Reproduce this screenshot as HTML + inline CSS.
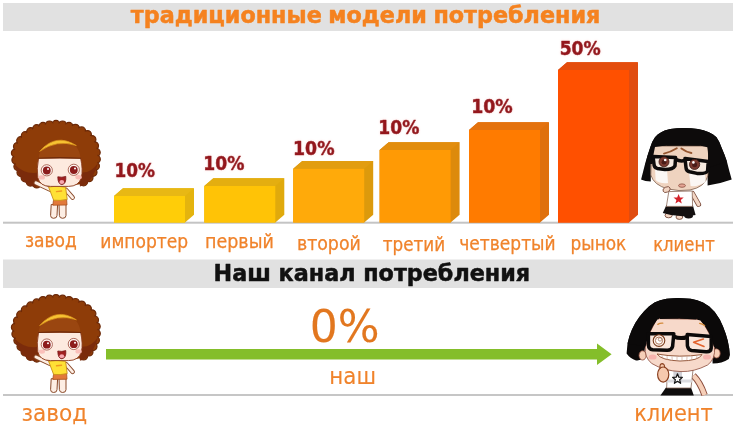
<!DOCTYPE html>
<html lang="ru">
<head>
<meta charset="utf-8">
<title>традиционные модели потребления</title>
<style>
html,body{margin:0;padding:0;background:#fff;}
body{width:747px;height:434px;overflow:hidden;position:relative;}
svg{position:absolute;left:0;top:0;display:block;}
svg text{font-family:"DejaVu Sans Condensed","DejaVu Sans","Liberation Sans",sans-serif;}
svg text.tt{font-family:"DejaVu Sans","Liberation Sans",sans-serif;}
</style>
</head>
<body>
<svg width="747" height="434" viewBox="0 0 747 434">
<defs>
<filter id="halo" x="-20%" y="-40%" width="140%" height="180%">
<feGaussianBlur in="SourceAlpha" stdDeviation="1.3" result="b"/>
<feFlood flood-color="#ff9a9a" flood-opacity="0.38"/>
<feComposite in2="b" operator="in" result="g"/>
<feMerge><feMergeNode in="g"/><feMergeNode in="SourceGraphic"/></feMerge>
</filter>
</defs>
<g id="misc">
<rect x="3" y="3" width="730" height="28" fill="#e1e1e1"/>
<rect x="3" y="259.5" width="730" height="28.5" fill="#e1e1e1"/>
<rect x="3" y="221.7" width="730" height="2" fill="#c4c4c4"/>
<rect x="3" y="394" width="730" height="2" fill="#c6c6c6"/>
<polygon points="106,349 597,349 597,343.4 611.6,354.2 597,365 597,359.6 106,359.6" fill="#84be2a"/>
</g>

<g id="bars">
<polygon points="114.0,196.0 123.0,188.2 194.0,188.2 194.0,214.79999999999998 185.0,222.6 114.0,222.6" fill="#e4b40e"/>
<polygon points="114.0,196.0 123.0,188.2 194.0,188.2 185.0,196.0" fill="#e8b814"/>
<rect x="114.0" y="196.0" width="71.0" height="26.6" fill="#ffcd08"/>
<polygon points="204.3,186.0 213.3,178.2 284.3,178.2 284.3,214.79999999999998 275.3,222.6 204.3,222.6" fill="#e0aa0c"/>
<polygon points="204.3,186.0 213.3,178.2 284.3,178.2 275.3,186.0" fill="#e4ae10"/>
<rect x="204.3" y="186.0" width="71.0" height="36.6" fill="#ffc306"/>
<polygon points="293.2,168.8 302.2,161.0 373.2,161.0 373.2,214.79999999999998 364.2,222.6 293.2,222.6" fill="#dc9a0c"/>
<polygon points="293.2,168.8 302.2,161.0 373.2,161.0 364.2,168.8" fill="#e29d10"/>
<rect x="293.2" y="168.8" width="71.0" height="53.8" fill="#ffaa0a"/>
<polygon points="379.6,150.0 388.6,142.2 459.6,142.2 459.6,214.79999999999998 450.6,222.6 379.6,222.6" fill="#dd8a0c"/>
<polygon points="379.6,150.0 388.6,142.2 459.6,142.2 450.6,150.0" fill="#e28d0e"/>
<rect x="379.6" y="150.0" width="71.0" height="72.6" fill="#ff9a05"/>
<polygon points="469.0,130.0 478.0,122.2 549.0,122.2 549.0,214.79999999999998 540.0,222.6 469.0,222.6" fill="#df700c"/>
<polygon points="469.0,130.0 478.0,122.2 549.0,122.2 540.0,130.0" fill="#e4720e"/>
<rect x="469.0" y="130.0" width="71.0" height="92.6" fill="#ff7b00"/>
<polygon points="558.0,70.0 567.0,62.2 638.0,62.2 638.0,214.79999999999998 629.0,222.6 558.0,222.6" fill="#e04c10"/>
<polygon points="558.0,70.0 567.0,62.2 638.0,62.2 629.0,70.0" fill="#e44c0c"/>
<rect x="558.0" y="70.0" width="71.0" height="152.6" fill="#ff5000"/>
</g>

<g id="girl1" transform="translate(0,0)">
<!-- legs -->
<g fill="#fdeee4" stroke="#8a4a2a" stroke-width="1">
<path d="M51.2 204.5 L50.6 215.5 Q50.6 218.3 53.6 218.3 Q57 218.3 57 215.5 L57.6 204.5 Z"/>
<path d="M59 204.5 L59.4 215.5 Q59.6 218.3 62.6 218.3 Q66 218.3 66 215.5 L66 204.5 Z"/>
</g>
<!-- arms -->
<path d="M66 190 L72.6 197.6" stroke="#8a4a2a" stroke-width="4.6" stroke-linecap="round" fill="none"/>
<path d="M66 190 L72.6 197.6" stroke="#fdeee4" stroke-width="2.8" stroke-linecap="round" fill="none"/>
<!-- skirt -->
<path d="M53.6 199.5 L66.6 199 L67 205 L52.8 205.2 Z" fill="#e2793a" stroke="#a8501e" stroke-width="0.8"/>
<!-- hair -->
<g fill="#8e3c08" stroke="#6a2808" stroke-width="1.2"><circle cx="56.0" cy="124.4" r="4"/><circle cx="62.6" cy="125.0" r="4"/><circle cx="69.0" cy="126.4" r="4"/><circle cx="75.4" cy="128.3" r="4"/><circle cx="81.6" cy="130.9" r="4"/><circle cx="87.4" cy="134.6" r="4"/><circle cx="91.9" cy="139.6" r="4"/><circle cx="94.5" cy="145.8" r="4"/><circle cx="96.2" cy="152.4" r="4"/><circle cx="96.3" cy="159.2" r="4"/><circle cx="95.4" cy="166.0" r="4"/><circle cx="93.0" cy="172.3" r="4"/><circle cx="89.0" cy="177.7" r="4"/><circle cx="83.6" cy="181.8" r="4"/><circle cx="36.8" cy="183.9" r="4"/><circle cx="30.3" cy="182.1" r="4"/><circle cx="25.1" cy="177.8" r="4"/><circle cx="21.0" cy="172.4" r="4"/><circle cx="17.9" cy="166.4" r="4"/><circle cx="15.9" cy="159.9" r="4"/><circle cx="15.4" cy="153.1" r="4"/><circle cx="17.5" cy="146.6" r="4"/><circle cx="20.7" cy="140.7" r="4"/><circle cx="25.3" cy="135.7" r="4"/><circle cx="30.7" cy="131.7" r="4"/><circle cx="36.7" cy="128.7" r="4"/><circle cx="43.0" cy="126.4" r="4"/><circle cx="49.4" cy="125.0" r="4"/></g>
<polygon points="56.0,123.2 58.7,123.3 61.5,123.7 64.3,124.1 67.0,124.7 69.7,125.3 72.2,126.0 74.8,126.9 77.3,127.8 79.6,128.8 81.7,129.7 83.6,130.7 85.2,131.6 86.7,132.6 88.0,133.6 89.3,134.7 90.4,135.7 91.4,136.8 92.2,137.9 93.0,139.2 93.8,140.6 94.6,142.4 95.3,144.4 96.0,146.5 96.6,148.5 97.0,150.4 97.3,152.0 97.5,153.5 97.5,154.9 97.5,156.3 97.5,157.8 97.5,159.2 97.5,160.7 97.4,162.1 97.2,163.6 96.9,165.2 96.4,167.0 95.7,168.9 95.0,170.9 94.1,172.8 93.2,174.5 92.1,176.0 90.9,177.5 89.6,178.8 88.3,179.9 87.0,180.9 85.8,181.8 84.7,182.5 83.5,183.1 82.1,183.6 80.4,184.1 78.6,184.4 76.7,184.7 74.5,184.8 71.9,185.0 68.8,185.1 64.5,185.1 59.5,185.2 54.2,185.3 49.2,185.4 45.1,185.5 42.1,185.5 39.8,185.4 38.0,185.2 36.5,185.0 34.9,184.7 33.3,184.4 31.9,184.0 30.7,183.6 29.5,183.0 28.3,182.3 27.0,181.3 25.8,180.3 24.5,179.0 23.4,177.7 22.2,176.3 21.1,174.7 20.0,173.1 18.9,171.3 17.9,169.4 17.0,167.5 16.3,165.5 15.6,163.2 15.0,161.0 14.5,158.8 14.2,156.9 14.1,155.2 14.2,153.7 14.4,152.3 14.7,150.9 15.2,149.4 15.7,147.8 16.4,146.1 17.2,144.4 18.1,142.7 19.0,141.1 20.0,139.7 21.0,138.4 22.2,137.1 23.4,135.9 24.7,134.7 26.0,133.6 27.4,132.5 28.8,131.5 30.4,130.5 32.2,129.5 34.2,128.6 36.3,127.6 38.5,126.7 40.9,125.8 43.3,125.1 45.7,124.5 48.2,124.0 50.8,123.6 53.4,123.3" fill="#8e3c08"/>
<path d="M14 164 Q22 186 36 187 L40 172 Q26 176 14 164 Z" fill="#7a2a0c" opacity="0.95"/>
<path d="M98 163 Q92 184 80 186.5 L78 172 Q90 175 98 163 Z" fill="#7a2a0c" opacity="0.95"/>
<!-- left arm -->
<path d="M50.5 189.6 L36 182.8" stroke="#8a4a2a" stroke-width="4.8" stroke-linecap="round" fill="none"/>
<path d="M50.5 189.6 L36 182.8" stroke="#fdeee4" stroke-width="3" stroke-linecap="round" fill="none"/>
<!-- shirt -->
<path d="M48.6 187 Q57 185.2 65.6 187.2 L67.2 199.4 Q60 201 53.6 200.2 Z" fill="#ffe135" stroke="#c8901a" stroke-width="0.9" stroke-linejoin="round"/>
<path d="M56.5 191.6 L61.6 191" stroke="#f09a20" stroke-width="1.4" stroke-linecap="round"/>
<!-- face -->
<path d="M38.6 158 L80.6 158 Q83.2 170 81.4 177.5 Q78.8 186.4 68.5 186.4 L50.5 186.4 Q39.8 186.4 37.8 177.5 Q36.4 169 38.6 158 Z" fill="#fdeadf" stroke="#8a3a1a" stroke-width="0.9"/>
<!-- bangs -->
<path d="M38.6 158.6 Q39 151 44 147.5 Q60 139 76 146.5 Q80 151 80.6 158.6 Q60 157.4 38.6 158.6 Z" fill="#9a4610"/>
<path d="M38.2 158.3 Q60 157 81 158.3" stroke="#6e2a0a" stroke-width="1.1" fill="none"/>
<!-- headband -->
<path d="M39.6 151.4 Q56 132.4 76.4 145.6 Q57 139 39.6 151.4 Z" fill="#f6c232" stroke="#e09a20" stroke-width="0.7" stroke-linejoin="round"/>
<!-- cheeks -->
<ellipse cx="41.8" cy="177.4" rx="3.2" ry="2.2" fill="#f9b9b4" opacity="0.85"/>
<ellipse cx="78.6" cy="177.2" rx="3.2" ry="2.2" fill="#f9b9b4" opacity="0.85"/>
<!-- eyes -->
<g>
<circle cx="46.8" cy="170.3" r="5.6" fill="#fff6f2" stroke="#9a4a3a" stroke-width="0.8"/>
<circle cx="46.8" cy="170.5" r="3.9" fill="#8c1c1c"/>
<circle cx="48" cy="169" r="1" fill="#fff"/>
<circle cx="73.8" cy="169.8" r="5.6" fill="#fff6f2" stroke="#9a4a3a" stroke-width="0.8"/>
<circle cx="73.8" cy="170" r="3.9" fill="#8c1c1c"/>
<circle cx="75" cy="168.5" r="1" fill="#fff"/>
</g>
<!-- mouth -->
<path d="M57.8 176.8 Q62 177.8 65.8 176.4 Q66.4 184.2 61.8 184.6 Q57.8 184.2 57.8 176.8 Z" fill="#a02020" stroke="#7a1818" stroke-width="0.8" stroke-linejoin="round"/>
<ellipse cx="61.8" cy="182" rx="2.4" ry="1.9" fill="#f6a8b0"/>
</g>

<g id="client1">
<!-- feet / shoes -->
<ellipse cx="668.6" cy="215.4" rx="3.6" ry="2.4" fill="#f3d6c4" stroke="#6a3a2a" stroke-width="0.8"/>
<ellipse cx="679.4" cy="217" rx="3.4" ry="2.4" fill="#f3d6c4" stroke="#6a3a2a" stroke-width="0.8"/>
<ellipse cx="688.6" cy="216" rx="4.4" ry="2.4" fill="#151010"/>
<!-- right arm -->
<path d="M692.4 193.4 L698.6 204.4" stroke="#7a4a3a" stroke-width="5" stroke-linecap="round" fill="none"/>
<path d="M692.4 193.4 L698.6 204.4" stroke="#f3d6c4" stroke-width="3.4" stroke-linecap="round" fill="none"/>
<!-- skirt -->
<path d="M666.4 205 L692.8 205 L695.6 215 Q679 218.4 662.8 213 Z" fill="#141010"/>
<!-- shirt -->
<path d="M668.8 191.6 L692.2 191 L692.6 206.4 L666.4 206.4 Z" fill="#ffffff" stroke="#8a6a5a" stroke-width="0.8" stroke-linejoin="round"/>
<polygon points="678.6,194 680,197.5 683.7,197.6 680.8,199.9 681.8,203.5 678.6,201.4 675.4,203.5 676.4,199.9 673.5,197.6 677.2,197.5" fill="#d3222a"/>
<!-- hair back -->
<path d="M641.1 179.5 L643.2 171.2 L645.3 162.9 L647.4 156 L650.1 147.7 L652.2 142.1 L655 137.3 L657.7 134.5 L661.2 132.2 L664.7 130.5 L670.2 129 L677.1 128.2 L684 128 L690.9 128.2 L697.9 128.9 L703.4 130.2 L708.9 132.2 L713.1 134.5 L716.5 137.3 L719.3 142.1 L721.6 147.7 L724.4 154.6 L726.9 161.5 L729.4 171.2 L731.7 179.6 Q720 184 707.6 185.4 L707.6 160 L650.8 160 L650.8 181.6 Q645 181.4 641 179.5 Z" fill="#0d0b0b"/>
<!-- face -->
<path d="M653.4 146 L708 146 Q709.6 165 707.8 176 Q705 187 690 190 Q679 191.6 668 189 Q653.6 185 650.8 175 Q650.4 160 653.4 146 Z" fill="#efd3bf" stroke="#6a4a3a" stroke-width="0.7"/>
<!-- tears -->
<path d="M655 168 Q661 171 667 169 L668 183 Q660 184 655.6 180 Z" fill="#fbf7f4"/>
<path d="M689 172 Q697 175 705 172.5 L705.6 182 Q698 187 690.6 186 Z" fill="#fbf7f4"/>
<!-- hair front / bangs -->
<path d="M647.4 156 L650.1 147.7 L652.2 142.1 L655 137.3 L657.7 134.5 L661.2 132.2 L664.7 130.5 L670.2 129 L677.1 128.2 L684 128 L690.9 128.2 L697.9 128.9 L703.4 130.2 L708.9 132.2 L713.1 134.5 L716.5 137.3 L719.3 142.1 L721.6 147.7 L724.4 154.6 L726.9 161.5 L707.8 168 Q708.6 153 707.4 147.2 L701 145.8 L700.4 144 L699.6 145.6 L682.6 145 L682 143 L681.4 145 L667 145.4 L666.4 143.4 L665.8 145.4 L655 147 Q653 155 652.4 164 L645.6 164 Z" fill="#0d0b0b"/>
<!-- eyebrows -->
<path d="M664 153.6 Q671 151.8 676.8 148.2" stroke="#96552f" stroke-width="1.9" stroke-linecap="round" fill="none"/>
<path d="M681.4 148.4 Q686 151.8 691.4 153" stroke="#96552f" stroke-width="1.9" stroke-linecap="round" fill="none"/>
<!-- glasses -->
<g stroke="#0d0b0b" stroke-width="3.5" stroke-linejoin="round">
<path d="M653 156.6 L675.6 157.6 L675 165.8 Q673 169.4 665 169.4 L657.2 168.4 Q654 167.4 654 164.2 Z" fill="#f5e9df"/>
<path d="M685 158.4 L708.2 161.6 L707.6 171 Q706 174 697 173.4 L689.6 171.8 Q686.2 170.8 686 167.6 Z" fill="#f5e9df"/>
<path d="M675.6 159.4 Q680.4 161.8 685 160.4" fill="none"/>
</g>
<circle cx="664" cy="161.8" r="5" fill="#7c3b30" stroke="#3a1510" stroke-width="0.8"/>
<circle cx="664" cy="162.2" r="2.4" fill="#4a1c18"/>
<circle cx="665.2" cy="160" r="1.3" fill="#fff"/>
<circle cx="694.6" cy="164.4" r="5.1" fill="#7c3b30" stroke="#3a1510" stroke-width="0.8"/>
<circle cx="694.6" cy="164.8" r="2.5" fill="#4a1c18"/>
<circle cx="693.4" cy="162.4" r="1.3" fill="#fff"/>
<!-- mouth -->
<ellipse cx="682" cy="185.6" rx="3.4" ry="1.7" fill="#e5a494" stroke="#8a4a3a" stroke-width="0.8"/>
<!-- hand at chin -->
<ellipse cx="666.6" cy="189.6" rx="3.8" ry="2.6" transform="rotate(-25 666.6 189.6)" fill="#f3d6c4" stroke="#7a4a3a" stroke-width="0.8"/>
</g>

<g id="girl2" transform="translate(0,174.2)">
<!-- legs -->
<g fill="#fdeee4" stroke="#8a4a2a" stroke-width="1">
<path d="M51.2 204.5 L50.6 215.5 Q50.6 218.3 53.6 218.3 Q57 218.3 57 215.5 L57.6 204.5 Z"/>
<path d="M59 204.5 L59.4 215.5 Q59.6 218.3 62.6 218.3 Q66 218.3 66 215.5 L66 204.5 Z"/>
</g>
<!-- arms -->
<path d="M66 190 L72.6 197.6" stroke="#8a4a2a" stroke-width="4.6" stroke-linecap="round" fill="none"/>
<path d="M66 190 L72.6 197.6" stroke="#fdeee4" stroke-width="2.8" stroke-linecap="round" fill="none"/>
<!-- skirt -->
<path d="M53.6 199.5 L66.6 199 L67 205 L52.8 205.2 Z" fill="#e2793a" stroke="#a8501e" stroke-width="0.8"/>
<!-- hair -->
<g fill="#8e3c08" stroke="#6a2808" stroke-width="1.2"><circle cx="56.0" cy="124.4" r="4"/><circle cx="62.6" cy="125.0" r="4"/><circle cx="69.0" cy="126.4" r="4"/><circle cx="75.4" cy="128.3" r="4"/><circle cx="81.6" cy="130.9" r="4"/><circle cx="87.4" cy="134.6" r="4"/><circle cx="91.9" cy="139.6" r="4"/><circle cx="94.5" cy="145.8" r="4"/><circle cx="96.2" cy="152.4" r="4"/><circle cx="96.3" cy="159.2" r="4"/><circle cx="95.4" cy="166.0" r="4"/><circle cx="93.0" cy="172.3" r="4"/><circle cx="89.0" cy="177.7" r="4"/><circle cx="83.6" cy="181.8" r="4"/><circle cx="36.8" cy="183.9" r="4"/><circle cx="30.3" cy="182.1" r="4"/><circle cx="25.1" cy="177.8" r="4"/><circle cx="21.0" cy="172.4" r="4"/><circle cx="17.9" cy="166.4" r="4"/><circle cx="15.9" cy="159.9" r="4"/><circle cx="15.4" cy="153.1" r="4"/><circle cx="17.5" cy="146.6" r="4"/><circle cx="20.7" cy="140.7" r="4"/><circle cx="25.3" cy="135.7" r="4"/><circle cx="30.7" cy="131.7" r="4"/><circle cx="36.7" cy="128.7" r="4"/><circle cx="43.0" cy="126.4" r="4"/><circle cx="49.4" cy="125.0" r="4"/></g>
<polygon points="56.0,123.2 58.7,123.3 61.5,123.7 64.3,124.1 67.0,124.7 69.7,125.3 72.2,126.0 74.8,126.9 77.3,127.8 79.6,128.8 81.7,129.7 83.6,130.7 85.2,131.6 86.7,132.6 88.0,133.6 89.3,134.7 90.4,135.7 91.4,136.8 92.2,137.9 93.0,139.2 93.8,140.6 94.6,142.4 95.3,144.4 96.0,146.5 96.6,148.5 97.0,150.4 97.3,152.0 97.5,153.5 97.5,154.9 97.5,156.3 97.5,157.8 97.5,159.2 97.5,160.7 97.4,162.1 97.2,163.6 96.9,165.2 96.4,167.0 95.7,168.9 95.0,170.9 94.1,172.8 93.2,174.5 92.1,176.0 90.9,177.5 89.6,178.8 88.3,179.9 87.0,180.9 85.8,181.8 84.7,182.5 83.5,183.1 82.1,183.6 80.4,184.1 78.6,184.4 76.7,184.7 74.5,184.8 71.9,185.0 68.8,185.1 64.5,185.1 59.5,185.2 54.2,185.3 49.2,185.4 45.1,185.5 42.1,185.5 39.8,185.4 38.0,185.2 36.5,185.0 34.9,184.7 33.3,184.4 31.9,184.0 30.7,183.6 29.5,183.0 28.3,182.3 27.0,181.3 25.8,180.3 24.5,179.0 23.4,177.7 22.2,176.3 21.1,174.7 20.0,173.1 18.9,171.3 17.9,169.4 17.0,167.5 16.3,165.5 15.6,163.2 15.0,161.0 14.5,158.8 14.2,156.9 14.1,155.2 14.2,153.7 14.4,152.3 14.7,150.9 15.2,149.4 15.7,147.8 16.4,146.1 17.2,144.4 18.1,142.7 19.0,141.1 20.0,139.7 21.0,138.4 22.2,137.1 23.4,135.9 24.7,134.7 26.0,133.6 27.4,132.5 28.8,131.5 30.4,130.5 32.2,129.5 34.2,128.6 36.3,127.6 38.5,126.7 40.9,125.8 43.3,125.1 45.7,124.5 48.2,124.0 50.8,123.6 53.4,123.3" fill="#8e3c08"/>
<path d="M14 164 Q22 186 36 187 L40 172 Q26 176 14 164 Z" fill="#7a2a0c" opacity="0.95"/>
<path d="M98 163 Q92 184 80 186.5 L78 172 Q90 175 98 163 Z" fill="#7a2a0c" opacity="0.95"/>
<!-- left arm -->
<path d="M50.5 189.6 L36 182.8" stroke="#8a4a2a" stroke-width="4.8" stroke-linecap="round" fill="none"/>
<path d="M50.5 189.6 L36 182.8" stroke="#fdeee4" stroke-width="3" stroke-linecap="round" fill="none"/>
<!-- shirt -->
<path d="M48.6 187 Q57 185.2 65.6 187.2 L67.2 199.4 Q60 201 53.6 200.2 Z" fill="#ffe135" stroke="#c8901a" stroke-width="0.9" stroke-linejoin="round"/>
<path d="M56.5 191.6 L61.6 191" stroke="#f09a20" stroke-width="1.4" stroke-linecap="round"/>
<!-- face -->
<path d="M38.6 158 L80.6 158 Q83.2 170 81.4 177.5 Q78.8 186.4 68.5 186.4 L50.5 186.4 Q39.8 186.4 37.8 177.5 Q36.4 169 38.6 158 Z" fill="#fdeadf" stroke="#8a3a1a" stroke-width="0.9"/>
<!-- bangs -->
<path d="M38.6 158.6 Q39 151 44 147.5 Q60 139 76 146.5 Q80 151 80.6 158.6 Q60 157.4 38.6 158.6 Z" fill="#9a4610"/>
<path d="M38.2 158.3 Q60 157 81 158.3" stroke="#6e2a0a" stroke-width="1.1" fill="none"/>
<!-- headband -->
<path d="M39.6 151.4 Q56 132.4 76.4 145.6 Q57 139 39.6 151.4 Z" fill="#f6c232" stroke="#e09a20" stroke-width="0.7" stroke-linejoin="round"/>
<!-- cheeks -->
<ellipse cx="41.8" cy="177.4" rx="3.2" ry="2.2" fill="#f9b9b4" opacity="0.85"/>
<ellipse cx="78.6" cy="177.2" rx="3.2" ry="2.2" fill="#f9b9b4" opacity="0.85"/>
<!-- eyes -->
<g>
<circle cx="46.8" cy="170.3" r="5.6" fill="#fff6f2" stroke="#9a4a3a" stroke-width="0.8"/>
<circle cx="46.8" cy="170.5" r="3.9" fill="#8c1c1c"/>
<circle cx="48" cy="169" r="1" fill="#fff"/>
<circle cx="73.8" cy="169.8" r="5.6" fill="#fff6f2" stroke="#9a4a3a" stroke-width="0.8"/>
<circle cx="73.8" cy="170" r="3.9" fill="#8c1c1c"/>
<circle cx="75" cy="168.5" r="1" fill="#fff"/>
</g>
<!-- mouth -->
<path d="M57.8 176.8 Q62 177.8 65.8 176.4 Q66.4 184.2 61.8 184.6 Q57.8 184.2 57.8 176.8 Z" fill="#a02020" stroke="#7a1818" stroke-width="0.8" stroke-linejoin="round"/>
<ellipse cx="61.8" cy="182" rx="2.4" ry="1.9" fill="#f6a8b0"/>
</g>

<g id="client2">
<!-- right arm -->
<path d="M693.4 375.6 Q700 382 704.6 395" stroke="#8a4a3a" stroke-width="6.4" stroke-linecap="butt" fill="none"/>
<path d="M693.4 375.6 Q700 382 704.6 395" stroke="#f6cfb8" stroke-width="4.6" stroke-linecap="butt" fill="none"/>
<!-- skirt -->
<path d="M666 387.4 L691 387.4 L693.8 395.6 L660.4 395.6 Z" fill="#0f0d0d"/>
<!-- shirt -->
<path d="M667.6 370 L693 370 L691 388 L666.6 388 Z" fill="#ffffff" stroke="#8a6a5a" stroke-width="0.8"/>
<path d="M667 379.4 L692 379.4 L691.8 382.4 L666.8 382.4 Z" fill="#dcdce0"/>
<path d="M673.4 370.6 L682 370.6 L682 382.4 L673.4 382.4 Z" fill="#d0d0d6"/>
<polygon points="677.5,373.8 678.8,377.2 682.4,377.4 679.6,379.7 680.6,383.3 677.5,381.3 674.4,383.3 675.4,379.7 672.6,377.4 676.2,377.2" fill="#ffffff" stroke="#151515" stroke-width="1.2" stroke-linejoin="round"/>
<!-- hair back -->
<path d="M626.6 353.4 L627.5 343.5 L629.5 336 L632 329.5 L635.3 323 L639.3 317 L644.1 311.3 L648.9 306.5 L654.5 302.6 L660.2 300.2 L666.6 298.8 L677.8 298.1 L690.7 298.8 L697.1 300.2 L703 302.4 L709.3 306.5 L714.8 312 L719.8 319.5 L723 326.5 L725.8 334 L727.8 341 L729.2 348.4 L729.8 355.6 L728.8 359 Q722 363.6 712.6 363.6 L712 340 L646 340 L643.6 358 Q640 361 636 360.4 Q630 358.4 626.6 353.4 Z" fill="#0b0909"/>
<!-- ears -->
<ellipse cx="642.6" cy="355.4" rx="3.6" ry="4.6" fill="#f6cfb8" stroke="#8a4a3a" stroke-width="0.8"/>
<ellipse cx="716.6" cy="353.4" rx="3.6" ry="4.6" fill="#f6cfb8" stroke="#8a4a3a" stroke-width="0.8"/>
<!-- face -->
<path d="M657 318.6 L700.4 319.2 Q710 332 714.4 347 Q715.8 359 707.6 365 Q694 372 681 371.6 Q664 371 651.6 363.4 Q644.2 357 645.4 347 Q648.6 332 657 318.6 Z" fill="#f7d9ca" stroke="#8a4a3a" stroke-width="0.8"/>
<!-- cheeks -->
<ellipse cx="652.6" cy="357" rx="4" ry="2.6" fill="#f6a9a6" opacity="0.8"/>
<ellipse cx="707" cy="357" rx="4" ry="2.6" fill="#f6a9a6" opacity="0.8"/>
<!-- hair front -->
<path d="M627.5 343.5 L629.5 336 L632 329.5 L635.3 323 L639.3 317 L644.1 311.3 L648.9 306.5 L654.5 302.6 L660.2 300.2 L666.6 298.8 L677.8 298.1 L690.7 298.8 L697.1 300.2 L703 302.4 L709.3 306.5 L714.8 312 L719.8 319.5 L723 326.5 L725.8 334 L727.8 341 L729.2 348.4 L729.8 355.6 L713.8 346.4 Q710.6 331 700.4 320.4 L697.4 319.8 L697 317.8 L696.4 319.6 L679.6 318.4 L679.2 316.2 L678.6 318.4 L660 319 L659.4 317 L658.8 319.2 L657.4 319.4 Q648.6 331 645.6 346.4 Z" fill="#0b0909"/>
<!-- brows -->
<path d="M657.8 324.4 Q659.8 323 662.8 323.2" stroke="#d38a3a" stroke-width="1.3" stroke-linecap="round" fill="none"/>
<path d="M699.6 323.4 Q702.4 323.8 704.6 325.6" stroke="#d38a3a" stroke-width="1.3" stroke-linecap="round" fill="none"/>
<!-- glasses -->
<g stroke="#0b0909" stroke-width="3.5" stroke-linejoin="round">
<path d="M648.4 333.8 L673.8 333.8 L672.6 346.4 Q671.4 350.4 667 350.2 L652.8 349.8 Q648.6 349.2 648.4 344.8 Z" fill="#f9e6dc"/>
<path d="M687.2 334.6 L711.2 336.6 L711.2 348 Q710.8 352.2 706 351.8 L691.6 350.4 Q688 349.8 687.4 345.8 Z" fill="#f9e6dc"/>
<path d="M673.8 336.6 Q680.6 339.4 687.2 337" fill="none" stroke-width="4"/>
</g>
<!-- left eye -->
<circle cx="659" cy="340.6" r="5.8" fill="#fdf3ec" stroke="#7a3a1a" stroke-width="1.1"/>
<circle cx="659" cy="340.6" r="3.6" fill="#fff" stroke="#a86a4a" stroke-width="0.9"/>
<circle cx="660" cy="339.4" r="1.7" fill="#fff" stroke="#8a4a2a" stroke-width="0.6"/>
<!-- wink -->
<path d="M703.4 339 L693.6 342.2 L704 346.4" stroke="#e2632e" stroke-width="1.6" stroke-linecap="round" stroke-linejoin="round" fill="none"/>
<!-- grin -->
<path d="M657 354 Q679 358 702 354.6 Q699 360.8 680 361 Q661.4 360.4 657 354 Z" fill="#ffffff" stroke="#8a4a2a" stroke-width="0.9" stroke-linejoin="round"/>
<path d="M662 355.4 L662.6 359 M667 356 L667.4 360.2 M672 356.4 L672.2 360.6 M677 356.6 L677 360.8 M682 356.6 L682 360.8 M687 356.4 L686.8 360.6 M692 356 L691.6 360 M697 355.4 L696.4 358.8" stroke="#c89a8a" stroke-width="0.6" fill="none"/>
<!-- thumb up hand -->
<path d="M660.2 368.6 Q659.2 364 662.2 363.6 Q665 363.8 664.6 368.6 Z" fill="#f6c9ae" stroke="#8a4020" stroke-width="1.1"/>
<ellipse cx="663.2" cy="374.6" rx="5.6" ry="7.6" fill="#f6c9ae" stroke="#8a4020" stroke-width="1.2"/>
</g>

<g id="texts">
<text class="tt" x="130.83" y="23.3" textLength="469.48" lengthAdjust="spacingAndGlyphs" font-size="22.3" font-weight="bold" word-spacing="-1.2" fill="#f5821f" stroke="#f5821f" stroke-width="0.50" stroke-linejoin="round">традиционные модели потребления</text>
<text class="tt" x="213.55" y="281.3" textLength="316.54" lengthAdjust="spacingAndGlyphs" font-size="22.3" font-weight="bold" fill="#111111" stroke="#111111" stroke-width="0.50" stroke-linejoin="round">Наш канал потребления</text>
<text filter="url(#halo)" x="114.39" y="177.4" textLength="40.50" lengthAdjust="spacingAndGlyphs" font-size="19.0" font-weight="bold" fill="#94191f" stroke="#94191f" stroke-width="0.50" stroke-linejoin="round">10%</text>
<text filter="url(#halo)" x="203.37" y="169.8" textLength="41.03" lengthAdjust="spacingAndGlyphs" font-size="19.0" font-weight="bold" fill="#94191f" stroke="#94191f" stroke-width="0.50" stroke-linejoin="round">10%</text>
<text filter="url(#halo)" x="293.05" y="154.6" textLength="41.45" lengthAdjust="spacingAndGlyphs" font-size="19.0" font-weight="bold" fill="#94191f" stroke="#94191f" stroke-width="0.50" stroke-linejoin="round">10%</text>
<text filter="url(#halo)" x="378.37" y="133.5" textLength="41.03" lengthAdjust="spacingAndGlyphs" font-size="19.0" font-weight="bold" fill="#94191f" stroke="#94191f" stroke-width="0.50" stroke-linejoin="round">10%</text>
<text filter="url(#halo)" x="471.15" y="112.9" textLength="41.56" lengthAdjust="spacingAndGlyphs" font-size="19.0" font-weight="bold" fill="#94191f" stroke="#94191f" stroke-width="0.50" stroke-linejoin="round">10%</text>
<text filter="url(#halo)" x="559.67" y="55.4" textLength="41.03" lengthAdjust="spacingAndGlyphs" font-size="19.0" font-weight="bold" fill="#94191f" stroke="#94191f" stroke-width="0.50" stroke-linejoin="round">50%</text>
<text x="24.90" y="246.6" textLength="52.00" lengthAdjust="spacingAndGlyphs" font-size="19.0" font-weight="normal" fill="#f0832b" stroke="#f0832b" stroke-width="0.25" stroke-linejoin="round">завод</text>
<text x="100.33" y="247.8" textLength="87.80" lengthAdjust="spacingAndGlyphs" font-size="19.0" font-weight="normal" fill="#f0832b" stroke="#f0832b" stroke-width="0.25" stroke-linejoin="round">импортер</text>
<text x="204.99" y="248.4" textLength="68.83" lengthAdjust="spacingAndGlyphs" font-size="19.0" font-weight="normal" fill="#f0832b" stroke="#f0832b" stroke-width="0.25" stroke-linejoin="round">первый</text>
<text x="296.90" y="249.6" textLength="63.93" lengthAdjust="spacingAndGlyphs" font-size="19.0" font-weight="normal" fill="#f0832b" stroke="#f0832b" stroke-width="0.25" stroke-linejoin="round">второй</text>
<text x="382.83" y="250.6" textLength="62.34" lengthAdjust="spacingAndGlyphs" font-size="19.0" font-weight="normal" fill="#f0832b" stroke="#f0832b" stroke-width="0.25" stroke-linejoin="round">третий</text>
<text x="459.28" y="249.9" textLength="96.39" lengthAdjust="spacingAndGlyphs" font-size="19.0" font-weight="normal" fill="#f0832b" stroke="#f0832b" stroke-width="0.25" stroke-linejoin="round">четвертый</text>
<text x="570.54" y="249.7" textLength="55.81" lengthAdjust="spacingAndGlyphs" font-size="19.0" font-weight="normal" fill="#f0832b" stroke="#f0832b" stroke-width="0.25" stroke-linejoin="round">рынок</text>
<text x="653.18" y="250.5" textLength="61.59" lengthAdjust="spacingAndGlyphs" font-size="19.0" font-weight="normal" fill="#f0832b" stroke="#f0832b" stroke-width="0.25" stroke-linejoin="round">клиент</text>
<text x="309.84" y="341.5" textLength="69.74" lengthAdjust="spacingAndGlyphs" font-size="44.0" font-weight="normal" fill="#e2771f" stroke="#e2771f" stroke-width="0.10" stroke-linejoin="round">0%</text>
<text x="329.33" y="383.5" textLength="46.71" lengthAdjust="spacingAndGlyphs" font-size="23.3" font-weight="normal" fill="#f0832b" stroke="#f0832b" stroke-width="0.10" stroke-linejoin="round">наш</text>
<text x="21.53" y="421.2" textLength="65.83" lengthAdjust="spacingAndGlyphs" font-size="23.3" font-weight="normal" fill="#f0832b" stroke="#f0832b" stroke-width="0.10" stroke-linejoin="round">завод</text>
<text x="634.17" y="421.1" textLength="78.60" lengthAdjust="spacingAndGlyphs" font-size="23.3" font-weight="normal" fill="#f0832b" stroke="#f0832b" stroke-width="0.10" stroke-linejoin="round">клиент</text>

</g>
</svg>
</body>
</html>
